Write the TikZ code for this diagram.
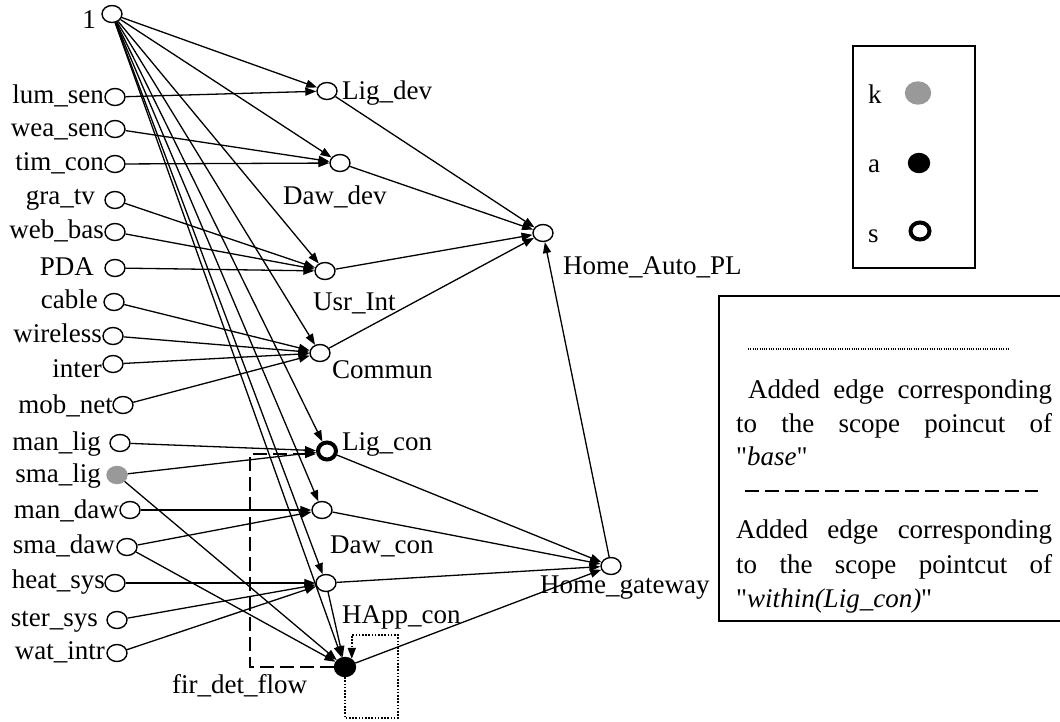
\documentclass[tikz,border=0pt]{standalone}
\usepackage{fontspec}
\setmainfont{Liberation Serif}[Ligatures=TeXOff]
\usetikzlibrary{shapes.geometric,arrows.meta}
\definecolor{kgray}{RGB}{153,153,153}

\begin{document}
\begin{tikzpicture}[x=1pt,y=-1pt,
  txt/.style={font=\fontsize{27}{31}\selectfont, inner sep=0pt},
  lbl/.style={txt, anchor=base east},
  rlbl/.style={txt, anchor=base west},
  vtx/.style={ellipse, draw, line width=1.4pt, minimum width=20pt, minimum height=17pt, inner sep=0pt, fill=white},
  kvtx/.style={vtx, draw=kgray, fill=kgray},
  avtx/.style={vtx, fill=black, minimum width=21pt, minimum height=19pt},
  svtx/.style={vtx, line width=4pt, minimum width=18pt, minimum height=17pt},
  edge/.style={-{Triangle[length=11pt,width=8pt]}, line width=1.3pt},
  dashedge/.style={edge, dash pattern=on 14pt off 6pt},
  dotedge/.style={edge, line width=1.6pt, dash pattern=on 1.6pt off 1.6pt},
  frame/.style={draw, line width=1.4pt}
]
\useasboundingbox (0,0) rectangle (1060,721);

% ---- left column: features ----
\node[vtx] (one) at (112,14) {};
\node[vtx] (lum) at (115,97) {};
\node[vtx] (wea) at (115,129) {};
\node[vtx] (tim) at (115,164) {};
\node[vtx] (gra) at (115,200) {};
\node[vtx] (web) at (115,232) {};
\node[vtx] (pda) at (115,268) {};
\node[vtx] (cab) at (114,302) {};
\node[vtx] (wir) at (113,336) {};
\node[vtx] (int) at (113,364) {};
\node[vtx] (mob) at (123,405) {};
\node[vtx] (manl) at (120,443) {};
\node[kvtx] (smal) at (117,475) {};
\node[vtx] (mand) at (130,510) {};
\node[vtx] (smad) at (127,547) {};
\node[vtx] (heat) at (115,583) {};
\node[vtx] (ster) at (117,620) {};
\node[vtx] (wat) at (117,653) {};

\node[lbl] (l-one) at (96,28) {1};
\node[lbl] (l-lum) at (104,103) {lum\_sen};
\node[lbl] (l-wea) at (104,136) {wea\_sen};
\node[lbl] (l-tim) at (104,170) {tim\_con};
\node[lbl] (l-gra) at (95,204) {gra\_tv};
\node[lbl] (l-web) at (104,238) {web\_bas};
\node[lbl] (l-pda) at (94,275) {PDA};
\node[lbl] (l-cab) at (98,308) {cable};
\node[lbl] (l-wir) at (102,342) {wireless};
\node[lbl] (l-int) at (102,377) {inter};
\node[lbl] (l-mob) at (113,413) {mob\_net};
\node[lbl] (l-manl) at (101,450) {man\_lig};
\node[lbl] (l-smal) at (101,482) {sma\_lig};
\node[lbl] (l-mand) at (119,518) {man\_daw};
\node[lbl] (l-smad) at (115,553) {sma\_daw};
\node[lbl] (l-heat) at (105,588) {heat\_sys};
\node[lbl] (l-ster) at (98,626) {ster\_sys};
\node[lbl] (l-wat) at (105,659) {wat\_intr};

% ---- middle column ----
\node[vtx] (ligd) at (327,91) {};
\node[vtx] (dawd) at (340,163) {};
\node[vtx] (usr) at (325,271) {};
\node[vtx] (com) at (320,353) {};
\node[svtx] (ligc) at (327,451) {};
\node[vtx] (dawc) at (322,510) {};
\node[vtx] (happ) at (326,583) {};
\node[avtx] (fir) at (345,667) {};

\node[rlbl] (l-ligd) at (342,99) {Lig\_dev};
\node[rlbl] (l-dawd) at (283,204) {Daw\_dev};
\node[rlbl] (l-usr) at (313,310) {Usr\_Int};
\node[rlbl] (l-com) at (332,378) {Commun};
\node[rlbl] (l-ligc) at (342,450) {Lig\_con};
\node[rlbl] (l-dawc) at (330,553) {Daw\_con};
\node[rlbl] (l-happ) at (342,623) {HApp\_con};
\node[rlbl] (l-fir) at (172,693) {fir\_det\_flow};

% ---- right column ----
\node[vtx] (hapl) at (543,233) {};
\node[vtx] (hgw) at (611,566) {};
\node[rlbl] (l-hapl) at (563,274) {Home\_Auto\_PL};
\node[rlbl] (l-hgw) at (540,593) {Home\_gateway};

% ---- edges from the root ----
\foreach \t in {ligd,dawd,usr,com,ligc,dawc,happ,fir}
  \draw[edge] (one) -- (\t);

% ---- edges from the features ----
\draw[edge] (lum) -- (ligd);
\draw[edge] (wea) -- (dawd);
\draw[edge] (tim) -- (dawd);
\draw[edge] (gra) -- (usr);
\draw[edge] (web) -- (usr);
\draw[edge] (pda) -- (usr);
\draw[edge] (cab) -- (com);
\draw[edge] (wir) -- (com);
\draw[edge] (int) -- (com);
\draw[edge] (mob) -- (com);
\draw[edge] (manl) -- (ligc);
\draw[edge] (smal) -- (ligc);
\draw[edge] (smal) -- (fir);
\draw[edge] (mand) -- (dawc);
\draw[edge] (smad) -- (dawc);
\draw[edge] (smad) -- (fir);
\draw[edge] (heat) -- (happ);
\draw[edge] (ster) -- (happ);
\draw[edge] (wat) -- (happ);
\draw[edge] (happ) -- (fir);

% ---- upper layers ----
\draw[edge] (ligd) -- (hapl);
\draw[edge] (dawd) -- (hapl);
\draw[edge] (usr) -- (hapl);
\draw[edge] (com) -- (hapl);
\draw[edge] (hgw) -- (hapl);
\draw[edge] (ligc) -- (hgw);
\draw[edge] (dawc) -- (hgw);
\draw[edge] (happ) -- (hgw);
\draw[edge] (fir) -- (hgw);

% ---- added edges ----
\coordinate (dashL) at (250,667);
\coordinate (dashT) at (250,454);
\draw[dashedge] (fir.west) -- (dashL) -- (dashT) -- (dashT -| ligc.west);

\coordinate (dotBR) at (398,718);
\coordinate (dotTR) at (398,635);
\draw[dotedge] (fir.south) -- (fir.south |- dotBR) -- (dotBR) -- (dotTR)
  -- (dotTR -| fir.50) -- (fir.50);

% ---- key box ----
\node[frame, minimum width=122pt, minimum height=222pt, inner sep=0pt] (keybox) at (914,157) {};
\node[rlbl] (k-k) at (868,103) {k};
\node[rlbl] (k-a) at (868,172) {a};
\node[rlbl] (k-s) at (868,242) {s};
\node[kvtx, minimum width=25pt, minimum height=22pt] (k-kdot) at (918,93) {};
\node[avtx] (k-adot) at (919,163) {};
\node[vtx, line width=4pt, minimum width=19pt, minimum height=17pt] (k-sdot) at (920,231) {};

% ---- edge-type box ----
\draw[line width=1.4pt] (719,296) rectangle (1075,621);
\coordinate (dotA) at (748,349);
\coordinate (dotB) at (1008,349);
\draw[line width=1.1pt, dash pattern=on 1pt off 1.3pt] (dotA) -- (dotB);
\node[rlbl] (t1) at (748,398) {\makebox[304pt][s]{Added edge corresponding}};
\node[rlbl] (t2) at (736,432) {\makebox[316pt][s]{to the scope poincut of}};
\node[rlbl] (t3) at (736,465) {"\textit{base}"};
\coordinate (dashA) at (745,491);
\coordinate (dashB) at (1038,491);
\draw[line width=1.5pt, dash pattern=on 14pt off 6pt] (dashA) -- (dashB);
\node[rlbl] (t4) at (736,538) {\makebox[316pt][s]{Added edge corresponding}};
\node[rlbl] (t5) at (736,573) {\makebox[316pt][s]{to the scope pointcut of}};
\node[rlbl] (t6) at (736,607) {"\textit{within(Lig\_con)}"};
\end{tikzpicture}
\end{document}
